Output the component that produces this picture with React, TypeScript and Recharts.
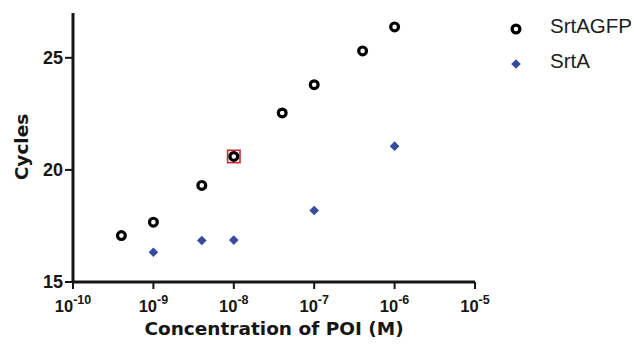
import { Label, Legend, Scatter, ScatterChart, XAxis, YAxis } from "recharts"

// concentration of POI (M) and cycle values
const srtAGfpConc = [4e-10, 1e-9, 4e-9, 1e-8, 4e-8, 1e-7, 4e-7, 1e-6]
const srtAGfpCycles = [17.07, 17.67, 19.31, 20.6, 22.54, 23.8, 25.31, 26.38]

const srtAConc = [1e-9, 4e-9, 1e-8, 1e-7, 1e-6]
const srtACycles = [16.33, 16.85, 16.87, 18.19, 21.06]

// the boxed point
const highlightConc = [1e-8]
const highlightCycles = [20.6]

const xTicks = [1e-10, 1e-9, 1e-8, 1e-7, 1e-6, 1e-5]
const yTicks = [15, 20, 25]

const seriesNames = ["SrtAGFP", "SrtA"]

const BLUE = "#374c9c"
const INK = "#161616"
const TICK_FONT = "'Liberation Sans', Arial, sans-serif"
const TITLE_FONT = "'DejaVu Sans', sans-serif"

const toPoints = (xs: number[], ys: number[]) => xs.map((x, i) => ({ x, y: ys[i] }))

const srtAGfpData = toPoints(srtAGfpConc, srtAGfpCycles)
const srtAData = toPoints(srtAConc, srtACycles)
const highlightData = toPoints(highlightConc, highlightCycles)

function RingDot({ cx, cy }: { cx?: number; cy?: number }) {
  if (cx == null || cy == null) return null
  return <circle cx={cx} cy={cy} r={3.9} fill="#fff" stroke="#000" strokeWidth={3.2} />
}

function DiamondDot({ cx, cy }: { cx?: number; cy?: number }) {
  if (cx == null || cy == null) return null
  const h = 4.8
  return (
    <path
      d={`M${cx},${cy - h} L${cx + h},${cy} L${cx},${cy + h} L${cx - h},${cy} Z`}
      fill={BLUE}
    />
  )
}

function BoxDot({ cx, cy }: { cx?: number; cy?: number }) {
  if (cx == null || cy == null) return null
  return (
    <rect x={cx - 6.2} y={cy - 6.2} width={12.4} height={12.4} fill="#fff" stroke="#cc2a35" strokeWidth={1.6} />
  )
}

function PowerTick({ x, y, payload }: any) {
  const exp = Math.round(Math.log10(payload.value))
  return (
    <text
      x={x}
      y={y + 21}
      textAnchor="middle"
      fill={INK}
      fontFamily={TICK_FONT}
      fontWeight={700}
    >
      <tspan fontSize={16.5}>10</tspan>
      <tspan fontSize={12.5} dy={-8}>
        {exp}
      </tspan>
    </text>
  )
}

function ChartLegend() {
  const icons = [
    <svg width={22} height={14} key="a">
      <RingDot cx={11} cy={7} />
    </svg>,
    <svg width={22} height={14} key="b">
      <DiamondDot cx={11} cy={7} />
    </svg>,
  ]
  return (
    <div style={{ fontFamily: TICK_FONT, fontSize: 20.5, color: "#1e1e1e" }}>
      {seriesNames.map((name, i) => (
        <div key={name} style={{ display: "flex", alignItems: "center", height: 35 }}>
          <span style={{ marginTop: 6, display: "flex" }}>{icons[i]}</span>
          <span style={{ marginLeft: 23, whiteSpace: "nowrap", lineHeight: "35px" }}>{name}</span>
        </div>
      ))}
    </div>
  )
}

export default function App() {
  return (
    <div style={{ position: "absolute", left: 0, top: 0, background: "#fff" }}>
      <ScatterChart
        width={634}
        height={345}
        margin={{ top: 13, right: 159, bottom: 0, left: 0 }}
      >
        <XAxis
          type="number"
          dataKey="x"
          scale="log"
          domain={[1e-10, 1e-5]}
          allowDataOverflow
          ticks={xTicks}
          tick={<PowerTick />}
          height={63}
          tickSize={7}
          tickMargin={2}
          axisLine={{ stroke: INK, strokeWidth: 3 }}
          tickLine={{ stroke: INK, strokeWidth: 2 }}
        >
          <Label
            content={() => (
              <text
                x={274}
                y={335}
                textAnchor="middle"
                fill={INK}
                fontFamily={TITLE_FONT}
                fontWeight={700}
                fontSize={18.5}
              >
                Concentration of POI (M)
              </text>
            )}
          />
        </XAxis>
        <YAxis
          type="number"
          dataKey="y"
          domain={[15, 27]}
          ticks={yTicks}
          width={73}
          tickSize={8}
          tickMargin={2}
          tick={{ fill: INK, fontSize: 18, fontWeight: 700, fontFamily: TICK_FONT }}
          axisLine={{ stroke: INK, strokeWidth: 3 }}
          tickLine={{ stroke: INK, strokeWidth: 2 }}
        >
          <Label
            content={() => (
              <text
                x={28}
                y={147}
                transform="rotate(-90, 28, 147)"
                textAnchor="middle"
                fill={INK}
                fontFamily={TITLE_FONT}
                fontWeight={700}
                fontSize={18.5}
              >
                Cycles
              </text>
            )}
          />
        </YAxis>
        <Legend
          layout="vertical"
          align="center"
          verticalAlign="middle"
          content={<ChartLegend />}
          wrapperStyle={{ left: 505, top: 8, width: 129 }}
        />
        <Scatter name="highlight" data={highlightData} shape={<BoxDot />} isAnimationActive={false} legendType="none" />
        <Scatter name="SrtAGFP" data={srtAGfpData} shape={<RingDot />} isAnimationActive={false} />
        <Scatter name="SrtA" data={srtAData} shape={<DiamondDot />} isAnimationActive={false} />
      </ScatterChart>
    </div>
  )
}
